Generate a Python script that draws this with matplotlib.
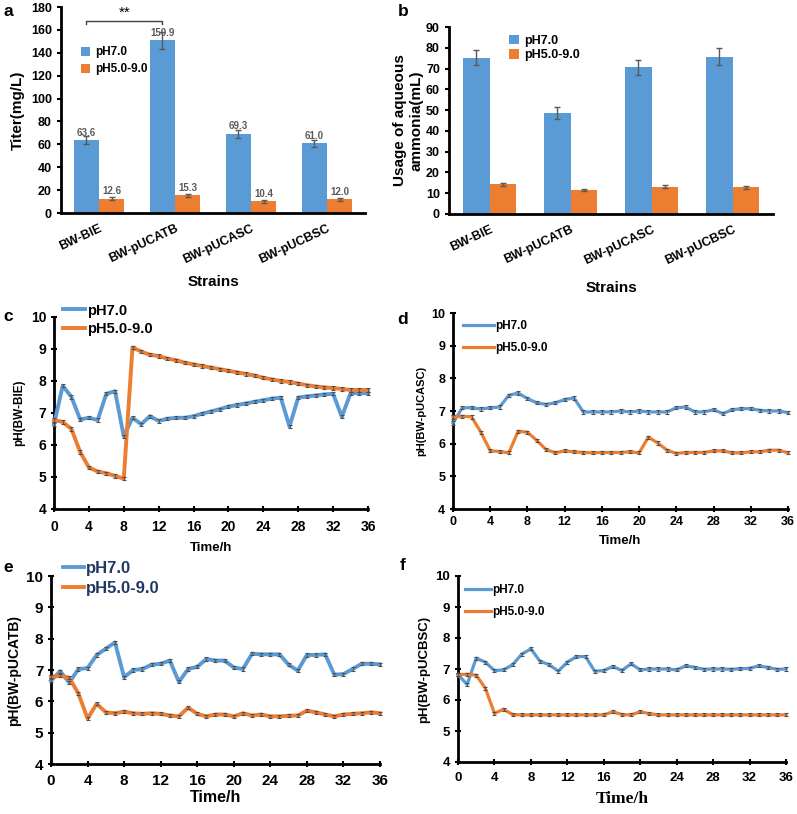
import matplotlib.pyplot as plt
import numpy as np

plt.rcParams['font.family'] = ['Liberation Sans', 'DejaVu Sans']
plt.rcParams['font.weight'] = 'bold'
plt.rcParams['axes.labelweight'] = 'bold'

BLUE = '#5B9BD5'
ORANGE = '#ED7D31'

# ---- data ----
strains = ['BW-BIE', 'BW-pUCATB', 'BW-pUCASC', 'BW-pUCBSC']
titer_ph7 = [63.6, 150.9, 69.3, 61.0]
titer_ph7_err = [3.5, 7.5, 3.5, 3.0]
titer_ph59 = [12.6, 15.3, 10.4, 12.0]
titer_ph59_err = [1.5, 1.3, 1.3, 1.3]

ammonia_ph7 = [75.3, 48.5, 70.6, 75.7]
ammonia_ph7_err = [3.6, 2.8, 3.5, 4.0]
ammonia_ph59 = [14.3, 11.6, 13.1, 12.9]
ammonia_ph59_err = [0.8, 0.6, 0.8, 0.8]

hours = list(range(37))

bie_ph7 = [6.65, 7.85, 7.5, 6.8, 6.85, 6.78, 7.6, 7.68, 6.27, 6.85, 6.65, 6.9, 6.75,
           6.82, 6.85, 6.85, 6.9, 6.98, 7.05, 7.12, 7.2, 7.25, 7.3, 7.35, 7.4, 7.45,
           7.48, 6.58, 7.48, 7.52, 7.55, 7.58, 7.6, 6.88, 7.62, 7.62, 7.62]
bie_ph59 = [6.78, 6.72, 6.5, 5.78, 5.3, 5.17, 5.12, 5.03, 4.95, 9.05, 8.92, 8.82, 8.78,
            8.7, 8.65, 8.57, 8.52, 8.47, 8.42, 8.37, 8.32, 8.27, 8.22, 8.17, 8.1, 8.05,
            8.0, 7.97, 7.92, 7.87, 7.83, 7.8, 7.78, 7.75, 7.72, 7.72, 7.72]

ucasc_ph7 = [6.63, 7.1, 7.1, 7.06, 7.1, 7.12, 7.48, 7.55, 7.38, 7.25, 7.2, 7.25, 7.35,
             7.4, 6.97, 6.97, 6.97, 6.97, 7.0, 6.97, 7.0, 6.97, 6.97, 6.97, 7.1, 7.12,
             6.97, 6.97, 7.04, 6.92, 7.04, 7.07, 7.07, 7.02, 7.0, 7.0, 6.95]
ucasc_ph59 = [6.82, 6.84, 6.82, 6.35, 5.78, 5.76, 5.72, 6.38, 6.35, 6.1, 5.82, 5.72, 5.78,
              5.75, 5.73, 5.72, 5.73, 5.73, 5.73, 5.75, 5.72, 6.2, 6.02, 5.8, 5.7, 5.73,
              5.73, 5.73, 5.78, 5.78, 5.72, 5.72, 5.75, 5.75, 5.8, 5.8, 5.72]

ucatb_ph7 = [6.66, 6.96, 6.6, 7.03, 7.06, 7.48, 7.68, 7.88, 6.77, 7.0, 7.03, 7.17, 7.2,
             7.3, 6.62, 7.03, 7.1, 7.35, 7.3, 7.3, 7.08, 7.03, 7.52, 7.5, 7.5, 7.5,
             7.17, 6.98, 7.48, 7.48, 7.5, 6.85, 6.87, 7.03, 7.2, 7.2, 7.18]
ucatb_ph59 = [6.78, 6.82, 6.75, 6.25, 5.45, 5.92, 5.65, 5.62, 5.67, 5.62, 5.6, 5.62, 5.6,
              5.55, 5.52, 5.8, 5.6, 5.52, 5.58, 5.58, 5.52, 5.62, 5.55, 5.58, 5.52, 5.52,
              5.54, 5.55, 5.7, 5.65, 5.58, 5.52, 5.58, 5.6, 5.62, 5.65, 5.62]

ucbsc_ph7 = [6.82, 6.5, 7.35, 7.22, 6.95, 6.97, 7.14, 7.48, 7.65, 7.25, 7.14, 6.93, 7.22,
             7.4, 7.4, 6.93, 6.95, 7.08, 6.95, 7.17, 6.97, 7.0, 7.0, 7.0, 6.97, 7.1,
             7.05, 6.99, 7.0, 7.0, 6.99, 7.01, 7.02, 7.1, 7.05, 6.99, 7.0]
ucbsc_ph59 = [6.82, 6.83, 6.8, 6.38, 5.57, 5.7, 5.53, 5.52, 5.52, 5.52, 5.52, 5.52, 5.52,
              5.52, 5.52, 5.52, 5.52, 5.62, 5.53, 5.52, 5.62, 5.56, 5.52, 5.52, 5.52, 5.52,
              5.52, 5.52, 5.52, 5.52, 5.52, 5.52, 5.52, 5.52, 5.52, 5.52, 5.52]

W, H = 797, 814
fig = plt.figure(figsize=(W / 100, H / 100), dpi=100)


def box(l, t, r, b):
    return fig.add_axes([l / W, 1 - b / H, (r - l) / W, (b - t) / H])


def bar_panel(ax, v7, e7, v59, e59, ymax, ystep, ylabel, labels_on):
    x = np.arange(len(strains))
    w = 0.33
    ax.bar(x - w / 2, v7, w, color=BLUE, label='pH7.0')
    ax.bar(x + w / 2, v59, w, color=ORANGE, label='pH5.0-9.0')
    ax.errorbar(x - w / 2, v7, yerr=e7, fmt='none', ecolor='#595959', elinewidth=1, capsize=2)
    ax.errorbar(x + w / 2, v59, yerr=e59, fmt='none', ecolor='#595959', elinewidth=1, capsize=2)
    if labels_on:
        for xi, v in zip(x - w / 2, v7):
            ax.text(xi, v + 2, f'{v:.1f}', ha='center', va='bottom', fontsize=7, color='#595959')
        for xi, v in zip(x + w / 2, v59):
            ax.text(xi, v + 2, f'{v:.1f}', ha='center', va='bottom', fontsize=7, color='#595959')
    ax.set_xlim(-0.5, 3.5)
    ax.set_ylim(0, ymax)
    ax.set_yticks(np.arange(0, ymax + 1, ystep))
    ax.set_xticks(x)
    ax.set_xticklabels(strains, rotation=25, ha='right', rotation_mode='anchor', fontsize=9)
    ax.tick_params(axis='x', length=0, pad=7)
    ax.tick_params(axis='y', labelsize=9, width=1.5, length=3)
    for s in ['top', 'right']:
        ax.spines[s].set_visible(False)
    for s in ['left', 'bottom']:
        ax.spines[s].set_linewidth(2)
    ax.set_ylabel(ylabel, fontsize=11)


# ---- panel a ----
ax_a = box(61, 7, 365, 213)
bar_panel(ax_a, titer_ph7, titer_ph7_err, titer_ph59, titer_ph59_err, 180, 20, 'Titer(mg/L)', True)
ax_a.xaxis.set_label_coords(0.5, -0.30)
ax_a.set_xlabel('Strains', fontsize=11)
ax_a.legend(loc='upper left', bbox_to_anchor=(0.03, 0.86), frameon=False, fontsize=8.5,
            handlelength=0.8, handleheight=0.8, handletextpad=0.4, labelspacing=0.4)
ax_a.plot([-0.165, -0.165, 0.835, 0.835], [165, 168, 168, 165], color='#404040', lw=1)
ax_a.text(0.335, 169, '**', ha='center', va='bottom', fontsize=11, fontweight='normal')

# ---- panel b ----
ax_b = box(449, 27, 773, 214)
bar_panel(ax_b, ammonia_ph7, ammonia_ph7_err, ammonia_ph59, ammonia_ph59_err, 90, 10,
          'Usage of aqueous\nammonia(mL)', False)
ax_b.xaxis.set_label_coords(0.5, -0.36)
ax_b.set_ylabel('Usage of aqueous\nammonia(mL)', fontsize=11, labelpad=2)
ax_b.set_xlabel('Strains', fontsize=11)
ax_b.legend(loc='upper left', bbox_to_anchor=(0.15, 1.02), frameon=False, fontsize=9,
            handlelength=0.8, handleheight=0.8, handletextpad=0.4, labelspacing=0.2)


def line_panel(ax, y7, y59, ylabel, lw, leg_anchor, leg_fs, leg_color, hl, tick_fs, xl_fs,
               yl_fs, xpad, xlpad, xl_family=None, spacing=0.3):
    ax.plot(hours, y7, color=BLUE, lw=lw, label='pH7.0', clip_on=False, zorder=3)
    ax.plot(hours, y59, color=ORANGE, lw=lw, label='pH5.0-9.0', clip_on=False, zorder=3)
    ax.errorbar(hours, y7, yerr=0.05, fmt='none', ecolor='#505050', elinewidth=0.6,
                capsize=1.5, capthick=0.8, zorder=4, clip_on=False)
    ax.errorbar(hours, y59, yerr=0.05, fmt='none', ecolor='#505050', elinewidth=0.6,
                capsize=1.5, capthick=0.8, zorder=4, clip_on=False)
    ax.set_xlim(0, 36)
    ax.set_ylim(4, 10)
    ax.set_xticks(np.arange(0, 37, 4))
    ax.set_yticks(np.arange(4, 11, 1))
    ax.tick_params(axis='both', labelsize=tick_fs, width=1.5, length=4, direction='inout')
    ax.tick_params(axis='x', pad=xpad)
    for s in ['top', 'right']:
        ax.spines[s].set_visible(False)
    for s in ['left', 'bottom']:
        ax.spines[s].set_linewidth(2)
    ax.set_ylabel(ylabel, fontsize=yl_fs)
    if xl_family:
        ax.set_xlabel('Time/h', fontsize=xl_fs, family=xl_family, labelpad=xlpad)
    else:
        ax.set_xlabel('Time/h', fontsize=xl_fs, labelpad=xlpad)
    leg = ax.legend(loc='upper left', bbox_to_anchor=leg_anchor, frameon=False, fontsize=leg_fs,
                    handlelength=hl, handletextpad=0.1, labelspacing=spacing, borderpad=0,
                    borderaxespad=0)
    for t in leg.get_texts():
        t.set_color(leg_color)


# ---- panel c ----
ax_c = box(54, 317, 368, 509)
line_panel(ax_c, bie_ph7, bie_ph59, 'pH(BW-BIE)', 2.8, (0.03, 1.07), 10.5, 'black', 1.5, 10, 9.5, 8.5,
           6, 6)

# ---- panel d ----
ax_d = box(453, 313, 788, 509)
line_panel(ax_d, ucasc_ph7, ucasc_ph59, 'pH(BW-pUCASC)', 2.3, (0.03, 0.965), 8.5, 'black', 2.6, 9, 9.5,
           8, 3, 5, spacing=0.9)

# ---- panel e ----
ax_e = box(51, 576, 380, 764)
line_panel(ax_e, ucatb_ph7, ucatb_ph59, 'pH(BW-pUCATB)', 2.8, (0.035, 1.08), 12, '#1F3864', 1.3, 11,
           11.5, 10, 5, 2)

# ---- panel f ----
ax_f = box(458, 576, 786, 762)
line_panel(ax_f, ucbsc_ph7, ucbsc_ph59, 'pH(BW-pUCBSC)', 2.3, (0.02, 0.955), 8.5, 'black', 2.2, 9.5,
           12.5, 9.5, 5, 5, xl_family=['Liberation Serif', 'DejaVu Serif'], spacing=0.8)

# panel letters
for letter, px, py in [('a', 3, 12), ('b', 398, 12), ('c', 3, 317), ('d', 397, 320),
                       ('e', 3, 568), ('f', 400, 566)]:
    fig.text(px / W, 1 - py / H, letter, fontsize=12.5, fontweight='bold', va='center', ha='left')

fig.savefig('out.png', dpi=100)
